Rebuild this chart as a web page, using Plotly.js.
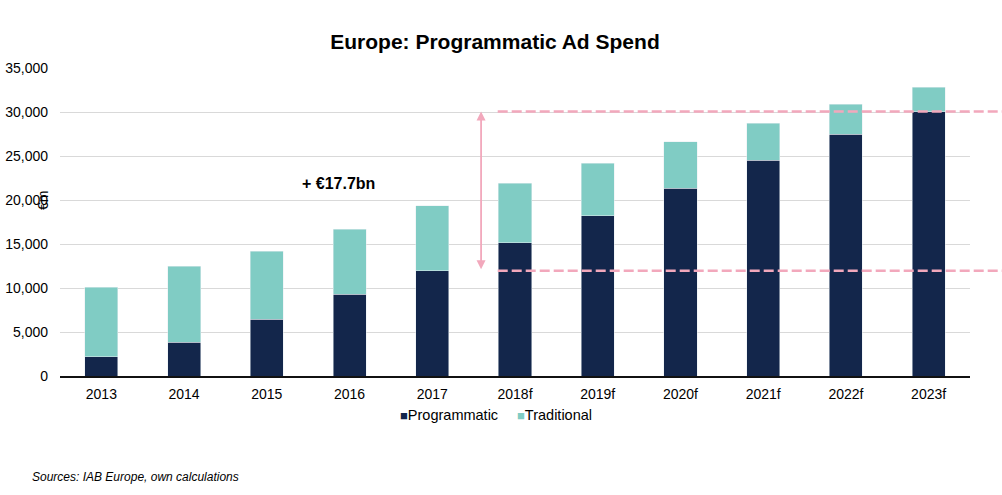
<!DOCTYPE html>
<html>
<head>
<meta charset="utf-8">
<script src="https://cdn.plot.ly/plotly-3.0.1.min.js"></script>
<style>html,body{margin:0;padding:0;background:#fff;}#chart{width:1002px;height:495px;}</style>
</head>
<body>
<div id="chart"></div>
<script>
const years = ['2013','2014','2015','2016','2017','2018f','2019f','2020f','2021f','2022f','2023f'];
const programmatic = [2200, 3850, 6450, 9300, 11950, 15150, 18200, 21350, 24500, 27450, 30050];
const totals = [10100, 12450, 14200, 16700, 19350, 21900, 24200, 26600, 28750, 30900, 32800];
const traditional = totals.map((t, i) => t - programmatic[i]);
const seriesNames = ['Programmatic', 'Traditional'];
const growthLabel = '+ €17.7bn';
const sourceText = 'Sources: IAB Europe, own calculations';

const navy = '#13264b';
const teal = '#80ccc4';
const pink = '#f2a8bc';

const lowRef = programmatic[4];
const highRef = programmatic[10];

const traces = [
  {type: 'bar', name: seriesNames[0], x: years, y: programmatic,
   marker: {color: navy, line: {color: '#e8eef2', width: 0.5}}},
  {type: 'bar', name: seriesNames[1], x: years, y: traditional,
   marker: {color: teal, line: {color: '#e8eef2', width: 0.5}}}
];

function legendItem(color, name, x) {
  return {xref: 'paper', yref: 'paper', x: x, y: -0.127, xanchor: 'left', yanchor: 'middle',
    text: '<span style="color:' + color + ';font-size:13px">■</span>' + name,
    showarrow: false, font: {size: 14.5, color: '#000'}};
}

const layout = {
  width: 1002, height: 495,
  margin: {l: 60, r: 32, t: 68, b: 119},
  paper_bgcolor: '#fff', plot_bgcolor: '#fff',
  barmode: 'stack', bargap: 0.6,
  font: {family: 'Liberation Sans, Arial, sans-serif', color: '#000', size: 14},
  title: {text: '<b>Europe: Programmatic Ad Spend</b>', x: 0.494, xanchor: 'center', y: 0.915, yanchor: 'middle',
          font: {size: 21, color: '#000'}},
  xaxis: {type: 'category', showgrid: false, showline: true, linecolor: '#111', linewidth: 1.8,
          ticks: '', tickfont: {size: 14}, ticklabelstandoff: 4},
  yaxis: {range: [0, 35000], dtick: 5000, tickformat: ',d', showgrid: true, gridcolor: '#d9d9d9',
          gridwidth: 1, zeroline: false, showline: false, ticks: '', tickfont: {size: 14},
          ticklabelstandoff: 11},
  showlegend: false,
  shapes: [
    {type: 'line', xref: 'paper', yref: 'y', x0: 0.481, x1: 1.04, y0: highRef, y1: highRef,
     line: {color: pink, width: 2.5, dash: '10px,4px'}},
    {type: 'line', xref: 'paper', yref: 'y', x0: 0.481, x1: 1.04, y0: lowRef, y1: lowRef,
     line: {color: pink, width: 2.5, dash: '10px,4px'}}
  ],
  annotations: [
    {xref: 'x', yref: 'y', axref: 'x', ayref: 'y', x: 4.59, y: highRef, ax: 4.59, ay: lowRef,
     text: '', showarrow: true, arrowside: 'end+start', arrowhead: 2, startarrowhead: 2,
     arrowsize: 1, startarrowsize: 1, arrowwidth: 1.8, arrowcolor: pink},
    {xref: 'paper', yref: 'paper', x: 0.306, y: 0.626, xanchor: 'center', yanchor: 'middle',
     text: '<b>' + growthLabel + '</b>', showarrow: false, font: {size: 16, color: '#000'}},
    {xref: 'paper', yref: 'paper', x: -0.018, y: 0.57, xanchor: 'center', yanchor: 'middle',
     text: '€m', textangle: -90, showarrow: false, font: {size: 14, color: '#000'}},
    {xref: 'paper', yref: 'paper', x: -0.033, y: -0.328, xanchor: 'left', yanchor: 'middle',
     text: '<i>' + sourceText + '</i>', showarrow: false, font: {size: 12, color: '#000'}},
    legendItem(navy, seriesNames[0], 0.371),
    legendItem(teal, seriesNames[1], 0.500)
  ]
};

Plotly.newPlot('chart', traces, layout, {displayModeBar: false, staticPlot: true});
</script>
</body>
</html>
